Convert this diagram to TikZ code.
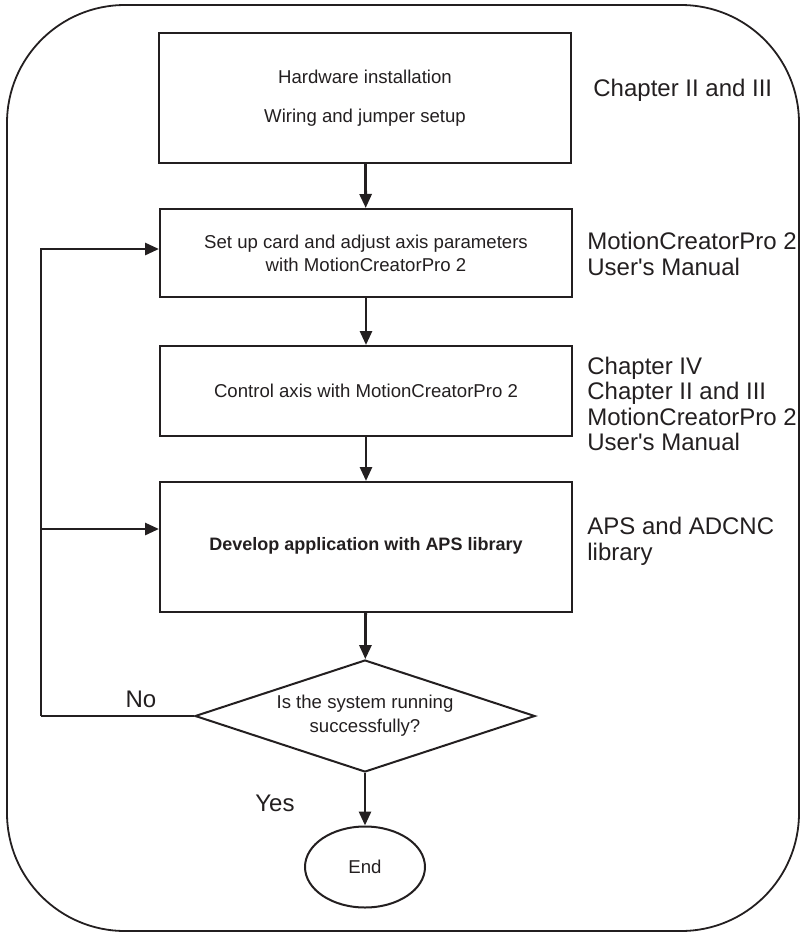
\documentclass[tikz,border=0pt]{standalone}
\usepackage{fontspec}
\setmainfont{Liberation Sans}
\usetikzlibrary{arrows.meta,shapes.geometric}
\definecolor{ink}{HTML}{231F20}

\begin{document}
\begin{tikzpicture}[x=0.5pt,y=-0.5pt,
                    every node/.style={text=ink},
                    procbox/.style={draw=ink,line width=1pt,minimum width=206pt,inner sep=0pt,
                                    align=center,font=\fontsize{9.3}{11.5}\selectfont},
                    decision/.style={draw=ink,line width=1pt,diamond,aspect=3,minimum width=170pt,minimum height=56pt,
                                     inner sep=0pt,align=center,font=\fontsize{9.3}{12}\selectfont},
                    terminal/.style={draw=ink,line width=1pt,ellipse,minimum width=60pt,minimum height=40.5pt,
                                     inner sep=0pt,font=\fontsize{9.3}{11.5}\selectfont},
                    note/.style={anchor=west,align=left,inner sep=0pt,font=\fontsize{12}{12.8}\selectfont},
                    flow/.style={draw=ink,line width=1.4pt,-{Triangle[length=7pt,width=6pt]}}]
\useasboundingbox (0,0) rectangle (801,933);
% frame round the whole flow
\draw[ink,line width=0.9pt,rounded corners=59pt] (7,5) rectangle (799,931);

\node[procbox,minimum height=65pt] (hw) at (365,98) {Hardware installation\\[8pt]Wiring and jumper setup};
\node[procbox,minimum height=44pt] (setup) at (366,253) {Set up card and adjust axis parameters\\with MotionCreatorPro 2};
\node[procbox,minimum height=45pt] (ctrl) at (366,391) {Control axis with MotionCreatorPro 2};
\node[procbox,minimum height=65pt] (dev) at (366,547) {\fontsize{9}{11}\selectfont\bfseries\raisebox{3.5pt}{Develop application with APS library}};
\node[decision] (ok) at (365,716) {Is the system running\\successfully?};
\node[terminal] (end) at (365,867) {End};

% references on the right
\node[note] (refhw) at (593,90) {Chapter II and III};
\node[note] (refsetup) at (587,254) {MotionCreatorPro 2\\User\textquotesingle s Manual};
\node[note] (refctrl) at (587,404) {Chapter IV\\Chapter II and III\\MotionCreatorPro 2\\User\textquotesingle s Manual};
\node[note] (refdev) at (587,541) {APS and ADCNC\\library};

\node[font=\fontsize{12}{12}\selectfont] (no) at (141,699) {No};
\node[font=\fontsize{12}{12}\selectfont] (yes) at (275,803) {Yes};

\draw[flow] (hw) -- (setup);
\draw[flow] (setup) -- (ctrl);
\draw[flow] (ctrl) -- (dev);
\draw[flow] (dev) -- (ok);
\draw[flow] (ok) -- (end);

% back loop
\coordinate (turn) at (41,716);
\draw[flow,-] (ok.west) -- (turn);
\draw[flow] (turn) |- ([yshift=2pt]setup.west);
\draw[flow] ([yshift=9pt]dev.west -| turn) -- ([yshift=9pt]dev.west);
\end{tikzpicture}
\end{document}
